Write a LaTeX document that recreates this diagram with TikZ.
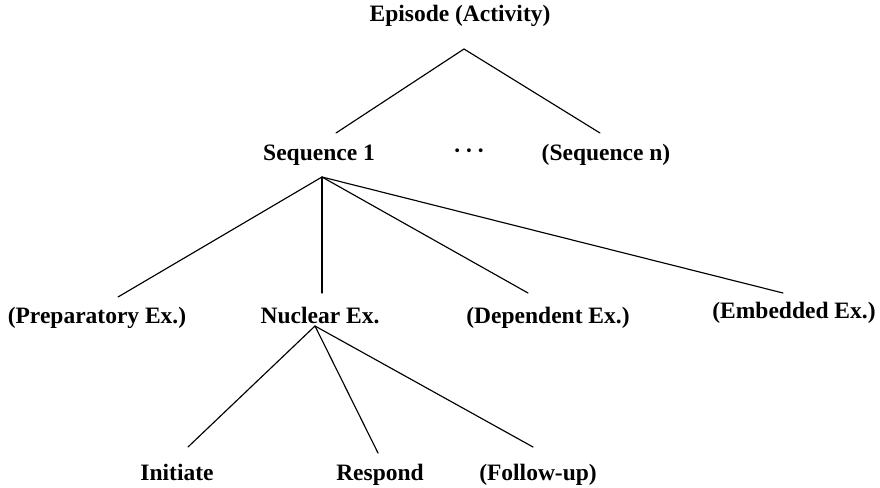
\documentclass[tikz,border=0pt]{standalone}
\usepackage{fontspec}
\setmainfont{Liberation Serif}
\begin{document}
\begin{tikzpicture}[x=1pt,y=-1pt,
  lbl/.style={font=\fontsize{23.5}{28}\selectfont\bfseries, inner sep=0pt, anchor=base},
  branch/.style={line width=1.15pt, line cap=round}]
\useasboundingbox (0,0) rectangle (880,487);
% labels
\node[lbl] (ep)    at (460,22)  {Episode (Activity)};
\node[lbl] (seq1)  at (319,160) {Sequence 1};
\node[lbl] (dots)  at (469,158) {·\,·\,·};
\node[lbl] (seqn)  at (606,160) {(Sequence n)};
\node[lbl] (prep)  at (97,323)  {(Preparatory Ex.)};
\node[lbl] (nuc)   at (320,323) {Nuclear Ex.};
\node[lbl] (dep)   at (548,323) {(Dependent Ex.)};
\node[lbl] (emb)   at (794,318) {(Embedded Ex.)};
\node[lbl] (init)  at (177,480) {Initiate};
\node[lbl] (resp)  at (380,480) {Respond};
\node[lbl] (foll)  at (538,480) {(Follow-up)};
% joints where branches meet
\coordinate (epJ)   at (464,49);
\coordinate (seq1T) at (336,133);
\coordinate (seqnT) at (600,133);
\coordinate (seq1J) at (322,177);
\coordinate (prepT) at (118,297);
\coordinate (nucT)  at (322,293);
\coordinate (depT)  at (528,293);
\coordinate (embT)  at (783,293);
\coordinate (nucJ)  at (315,326);
\coordinate (initT) at (188,447);
\coordinate (respT) at (378,453);
\coordinate (follT) at (533,447);
% branches
\draw[branch] (seq1T) -- (epJ) -- (seqnT);
\draw[branch] (seq1J) -- (prepT);
\draw[branch] (seq1J) -- (nucT);
\draw[branch] (seq1J) -- (depT);
\draw[branch] (seq1J) -- (embT);
\draw[branch] (nucJ) -- (initT);
\draw[branch] (nucJ) -- (respT);
\draw[branch] (nucJ) -- (follT);
\end{tikzpicture}
\end{document}
